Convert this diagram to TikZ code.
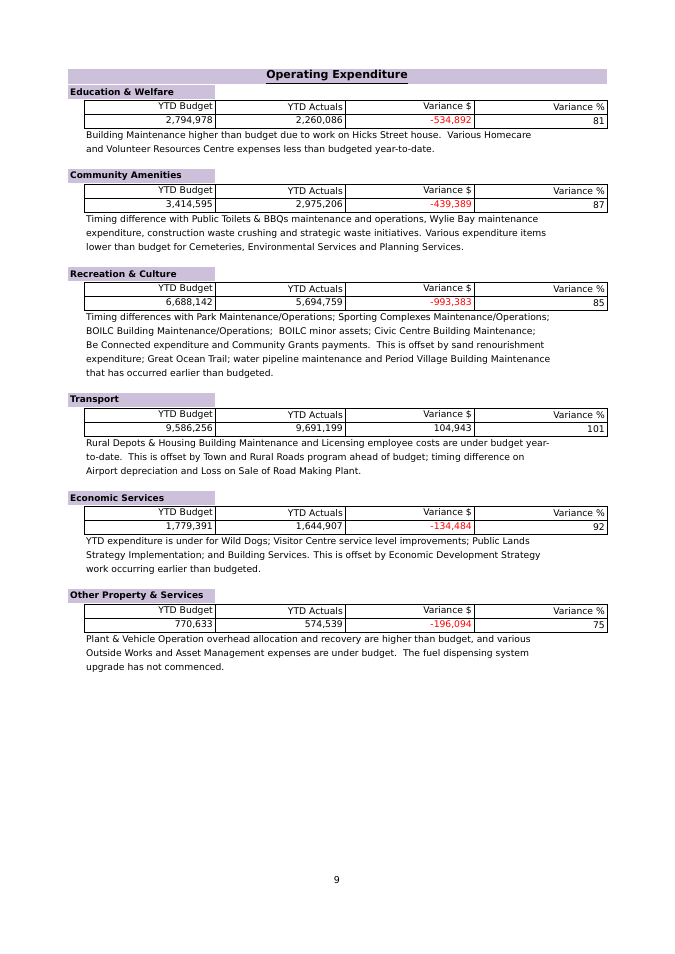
\documentclass[tikz,border=0pt]{standalone}
\usepackage{fontspec}
\setmainfont{DejaVu Sans}
\usetikzlibrary{positioning}
\definecolor{lavender}{RGB}{204,192,218}
\definecolor{negred}{RGB}{255,0,0}
\tikzset{
  band/.style={fill=lavender},
  head/.style={anchor=west,inner sep=0pt,font=\fontsize{9}{10}\selectfont\bfseries},
  tbl/.style={line width=0.9pt},
  cell/.style={anchor=east,inner sep=0pt,font=\fontsize{9.2}{10}\selectfont},
  para/.style={anchor=north west,inner sep=0pt,align=left,font=\fontsize{9.2}{14.1}\selectfont}
}
% one budget block: top of band, name, the four values
\newcommand\opsection[6]{%
\fill[band] (68,-#1) rectangle (215,-#1-14);
\node[head] (h#1) at (70,-#1-7) {#2};
\draw[tbl] (84,-#1-15) rectangle (607,-#1-43);
\draw[tbl] (84,-#1-29) -- (607,-#1-29);
\foreach \x in {215,345,474} \draw[tbl] (\x,-#1-15) -- (\x,-#1-43);
\node[cell] (b#1) at (213,-#1-22) {YTD Budget};
\node[cell] (a#1) at (343,-#1-22) {YTD Actuals};
\node[cell] (v#1) at (472,-#1-22) {Variance \$};
\node[cell] (p#1) at (605,-#1-22) {Variance \%};
\node[cell] (bv#1) at (213,-#1-36) {#3};
\node[cell] (av#1) at (343,-#1-36) {#4};
\node[cell,text=negred] (vv#1) at (472,-#1-36) {#5};
\node[cell] (pv#1) at (605,-#1-36) {#6};
}
\begin{document}
\begin{tikzpicture}[x=1pt,y=1pt]
\fill[white] (0,0) rectangle (675,-954);
\useasboundingbox (0,0) rectangle (675,-954);
\fill[band] (68,-69) rectangle (607,-84);
\node[inner sep=0pt,font=\fontsize{11}{12}\selectfont\bfseries] (title) at (337,-77) {\underline{Operating Expenditure}};

\opsection{85}{Education \& Welfare}{2,794,978}{2,260,086}{-534,892}{81}
\node[para] (t1) at (86,-131) {Building Maintenance higher than budget due to work on Hicks Street house.\ \ Various Homecare\\and Volunteer Resources Centre expenses less than budgeted year-to-date.};

\opsection{169}{Community Amenities}{3,414,595}{2,975,206}{-439,389}{87}
\node[para] (t2) at (86,-215) {Timing difference with Public Toilets \& BBQs maintenance and operations, Wylie Bay maintenance\\expenditure, construction waste crushing and strategic waste initiatives. Various expenditure items\\lower than budget for Cemeteries, Environmental Services and Planning Services.};

\opsection{267}{Recreation \& Culture}{6,688,142}{5,694,759}{-993,383}{85}
\node[para] (t3) at (86,-313) {Timing differences with Park Maintenance/Operations; Sporting Complexes Maintenance/Operations;\\BOILC Building Maintenance/Operations;\ \ BOILC minor assets; Civic Centre Building Maintenance;\\Be Connected expenditure and Community Grants payments.\ \ This is offset by sand renourishment\\expenditure; Great Ocean Trail; water pipeline maintenance and Period Village Building Maintenance\\that has occurred earlier than budgeted.};

\opsection{393}{Transport}{9,586,256}{9,691,199}{}{101}
\node[cell] (vx) at (472,-429) {104,943};
\node[para] (t4) at (86,-439) {Rural Depots \& Housing Building Maintenance and Licensing employee costs are under budget year-\\to-date.\ \ This is offset by Town and Rural Roads program ahead of budget; timing difference on\\Airport depreciation and Loss on Sale of Road Making Plant.};

\opsection{491}{Economic Services}{1,779,391}{1,644,907}{-134,484}{92}
\node[para] (t5) at (86,-537) {YTD expenditure is under for Wild Dogs; Visitor Centre service level improvements; Public Lands\\Strategy Implementation; and Building Services. This is offset by Economic Development Strategy\\work occurring earlier than budgeted.};

\opsection{589}{Other Property \& Services}{770,633}{574,539}{-196,094}{75}
\node[para] (t6) at (86,-635) {Plant \& Vehicle Operation overhead allocation and recovery are higher than budget, and various\\Outside Works and Asset Management expenses are under budget.\ \ The fuel dispensing system\\upgrade has not commenced.};

\node[inner sep=0pt,font=\fontsize{9.5}{10}\selectfont] (page) at (337,-880) {9};
\end{tikzpicture}
\end{document}
